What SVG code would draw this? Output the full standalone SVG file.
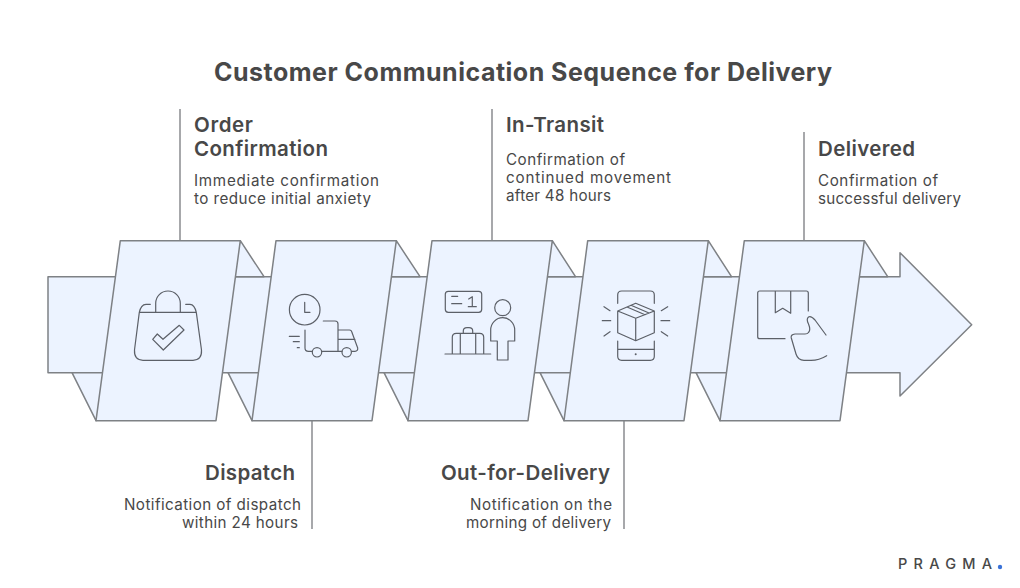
<svg xmlns="http://www.w3.org/2000/svg" width="1020" height="588" viewBox="0 0 1020 588">
<style>
text{font-family:"Inter","Open Sans","Liberation Sans",sans-serif;fill:#484848}
.t{font-size:25px;font-weight:700}
.h{font-size:20.5px;font-weight:600}
.b{font-size:15.2px;font-weight:400}
.s{fill:#ecf3ff;stroke:#7e8185;stroke-width:1.5;stroke-linejoin:round}
.l{fill:none;stroke:#8a8c90;stroke-width:1.5}
.i{fill:none;stroke:#5c6068;stroke-width:1.2;stroke-linecap:round;stroke-linejoin:round}
</style>
<rect width="1020" height="588" fill="#fff"/>
<text class="t" x="214" y="80.5" textLength="618" lengthAdjust="spacing">Customer Communication Sequence for Delivery</text>
<g id="connectors">
<path class="l" d="M180 109V241M492 109V241M804 132V241M312 420V529M624 420V529"/>
</g>
<g id="arrow">
<polygon class="s" points="48,276.7 900,276.7 900,252.7 971.7,324.7 900,396 900,372.7 48,372.7"/>
<path class="s" d="M240.3 240.7L264 276.7H230ZM396.3 240.7L420 276.7H386ZM552.3 240.7L575.5 276.7H542ZM708.3 240.7L731.5 276.7H698ZM864.3 240.7L887.7 276.7H854Z"/>
<path class="s" d="M72 372.7L96 420.7L110 372.7ZM228 372.7L252 420.7L266 372.7ZM384 372.7L408 420.7L422 372.7ZM540 372.7L564 420.7L578 372.7ZM696 372.7L720 420.7L734 372.7Z"/>
</g>
<g id="order-confirmation">
<polygon class="s" points="120.3,240.7 240.3,240.7 216,420.7 96,420.7"/>
<path class="i" d="M155.7 312.3V303.3A12.3 12.3 0 0 1 180.3 303.3V312.3M139.3 312.3H196.3M150.3 304.3H146Q141 304.5 139.3 312.3L134.5 350Q134 360.3 143 360.3H193Q202 360.3 201.5 350L196.3 312.3Q194.5 304.5 190 304.3H185.7"/>
<polygon class="i" points="152.7,339.3 157.3,334 163,339.3 179.3,325.3 184,330 163.3,350"/>
<text class="h" x="194" y="131.5" textLength="59" lengthAdjust="spacing">Order</text>
<text class="h" x="194" y="155.5" textLength="134" lengthAdjust="spacing">Confirmation</text>
<text class="b" x="194" y="185.5" textLength="185" lengthAdjust="spacing">Immediate confirmation</text>
<text class="b" x="194" y="203.5" textLength="177" lengthAdjust="spacing">to reduce initial anxiety</text>
</g>
<g id="dispatch">
<polygon class="s" points="276,240.7 396.3,240.7 372,420.7 252,420.7"/>
<circle class="i" cx="304.7" cy="309.7" r="15.3"/>
<path class="i" d="M304.7 302.3V312.3H310M323.3 321H335Q338 321 338 324V351M305 330V348Q305 351.3 308.5 351.3H312.3M321.7 351.3H342M338 330H349.5Q351.5 330 352 332.5L357.7 348Q358 351.3 355 351.3H351.7M338 339.3H355M289.3 336.3H299.3M293.3 341.7H299.3M297.3 347.7H299.3"/>
<circle class="i" cx="317" cy="352.3" r="4.7"/>
<circle class="i" cx="346.7" cy="352.3" r="4.7"/>
<text class="h" x="205" y="479.5" textLength="90" lengthAdjust="spacing">Dispatch</text>
<text class="b" x="124" y="509.5" textLength="177" lengthAdjust="spacing">Notification of dispatch</text>
<text class="b" x="182" y="527.5" textLength="116" lengthAdjust="spacing">within 24 hours</text>
</g>
<g id="in-transit">
<polygon class="s" points="432,240.7 552.3,240.7 528,420.7 408,420.7"/>
<rect class="i" x="445.3" y="291.3" width="36.4" height="21" rx="3"/>
<path class="i" d="M451.7 296.3H457.7M451.7 303.7H461.7M468.7 299L472.3 296.7V306.7M468.3 306.7H476.3"/>
<circle class="i" cx="502.7" cy="307.7" r="8"/>
<path class="i" d="M490.7 341V330A12 12.3 0 0 1 514.7 330V341H508V360H497.3V341ZM445 354H490.7M452.3 354V337.3Q452.3 333.3 456.3 333.3H479.7Q483.7 333.3 483.7 337.3V354M460.3 333.3V354M475.7 333.3V354M463.3 333.3V331Q463.3 327.7 467 327.7H469Q472.7 327.7 472.7 331V333.3"/>
<text class="h" x="506" y="131.5" textLength="98" lengthAdjust="spacing">In-Transit</text>
<text class="b" x="506" y="164.5" textLength="119" lengthAdjust="spacing">Confirmation of</text>
<text class="b" x="506" y="182.5" textLength="165" lengthAdjust="spacing">continued movement</text>
<text class="b" x="506" y="200.5" textLength="105" lengthAdjust="spacing">after 48 hours</text>
</g>
<g id="out-for-delivery">
<polygon class="s" points="587.7,240.7 708.3,240.7 684,420.7 564,420.7"/>
<path class="i" d="M617.7 303.3V295Q617.7 291 621.7 291H650.3Q654.3 291 654.3 295V303.3M617.7 341V356.3Q617.7 360.3 621.7 360.3H650.3Q654.3 360.3 654.3 356.3V341M617.7 349.3H654.3"/>
<circle cx="635.7" cy="354.3" r="1" fill="#5c6068"/>
<path class="i" d="M635.7 303.3L654.3 311V332.7L635.7 340.7L617.7 332.7V311ZM617.7 311L635.7 318.3L654.3 311M635.7 318.3V340.7M627 307L645 314.7M631 305.2L649 313M604 306.7L610 310.7M602.3 320.7H610.7M604 336L610 331.7M667.7 306.7L661.3 310.7M661 320.7H669.7M661.3 331.7L667.7 336"/>
<text class="h" x="441" y="479.5" textLength="169" lengthAdjust="spacing">Out-for-Delivery</text>
<text class="b" x="470" y="509.5" textLength="142" lengthAdjust="spacing">Notification on the</text>
<text class="b" x="466" y="527.5" textLength="145" lengthAdjust="spacing">morning of delivery</text>
</g>
<g id="delivered">
<polygon class="s" points="744.3,240.7 864.3,240.7 840,420.7 720,420.7"/>
<path class="i" d="M808.3 311V293Q808.3 291 806.3 291H759.7Q757.7 291 757.7 293V336.7Q757.7 338.7 759.7 338.7H785M775.3 291V312.7L782.7 308.3L790.7 313.3V291M826 335L815 320Q811 315.5 808.5 317Q806 319 808.5 324Q811 330 808.5 332.5Q807.5 334 805 334H795Q790.5 334.5 791.3 338L796 354Q798 360.3 804 360.3H811Q819 360.3 826.7 355.7"/>
<text class="h" x="818" y="155.5" textLength="97" lengthAdjust="spacing">Delivered</text>
<text class="b" x="818" y="185.5" textLength="120" lengthAdjust="spacing">Confirmation of</text>
<text class="b" x="818" y="203.5" textLength="143" lengthAdjust="spacing">successful delivery</text>
</g>
<g id="logo">
<text x="898" y="568.5" font-size="14.5" font-weight="500" textLength="94" lengthAdjust="spacing">PRAGMA</text>
<circle cx="1000" cy="567" r="2.2" fill="#3a72d8"/>
</g>
</svg>
